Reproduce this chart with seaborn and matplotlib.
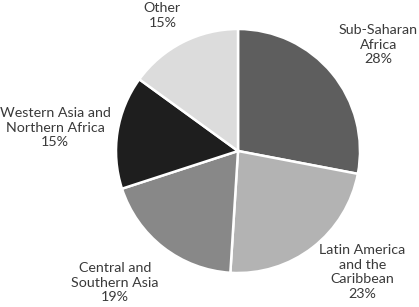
import matplotlib
matplotlib.use("Agg")
import matplotlib.pyplot as plt
import seaborn as sns

# share of total by region (%), clockwise from 12 o'clock
regions = ['Sub-Saharan\nAfrica', 'Latin America\nand the\nCaribbean',
           'Central and\nSouthern Asia', 'Western Asia and\nNorthern Africa', 'Other']
shares = [28, 23, 19, 15, 15]
colours = ['#5e5e5e', '#b3b3b3', '#888888', '#1e1e1e', '#dcdcdc']

# where each label sits, in units of the pie radius
label_xy = [(1.15, 0.87), (1.02, -0.99), (-1.01, -1.08), (-1.50, 0.19), (-0.62, 1.11)]

sns.set_theme(style='white')
plt.rcParams['font.family'] = ['Lato', 'DejaVu Sans']

fig = plt.figure(figsize=(4.19, 3.07), dpi=100)
ax = fig.add_axes([0, 0, 1, 1])
ax.pie(shares, colors=colours, startangle=90, counterclock=False,
       wedgeprops=dict(edgecolor='white', linewidth=1.8))

for name, val, (x, y) in zip(regions, shares, label_xy):
    ax.text(x, y, f'{name}\n{val}%', ha='center', va='center',
            fontsize=10.3, color='#3a3a3a', linespacing=1.25)

# 122 px per radius, centre at (238, 151) px from top-left
ax.set_xlim(-238 / 122, (419 - 238) / 122)
ax.set_ylim(-(307 - 151) / 122, 151 / 122)
ax.set_aspect('auto')
ax.axis('off')

fig.savefig('out.png', dpi=100)
